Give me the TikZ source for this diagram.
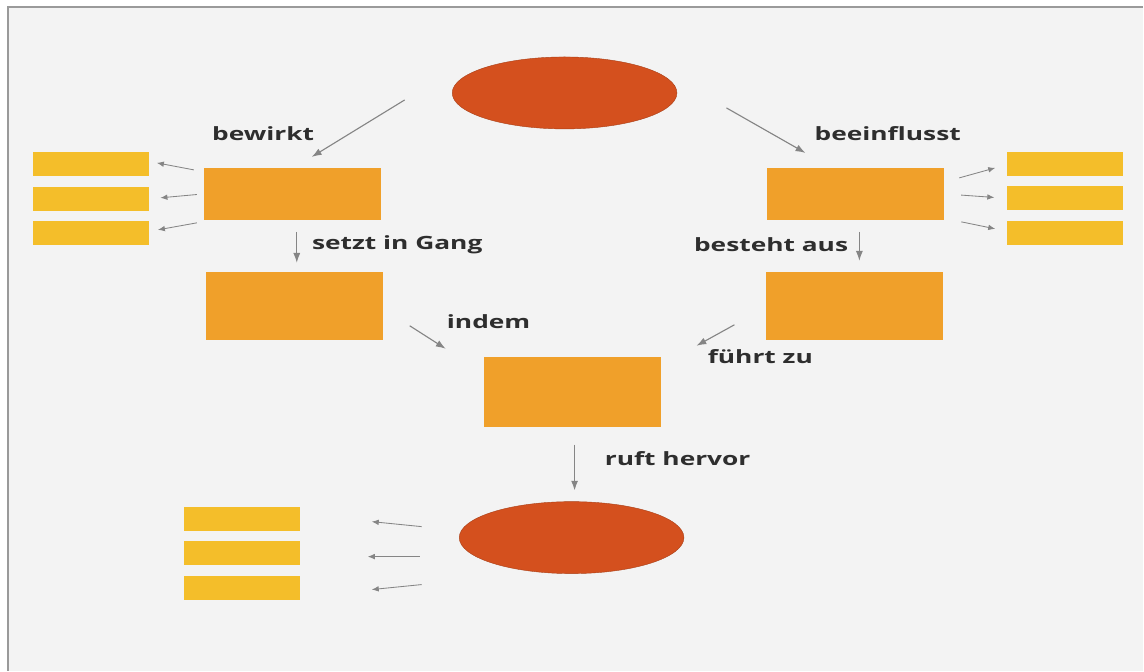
\documentclass[tikz,border=0pt]{standalone}
\usepackage{fontspec}
\setmainfont{Open Sans}[FakeStretch=1.44]
\usetikzlibrary{arrows.meta,shapes.geometric}
\definecolor{paper}{HTML}{F3F3F3}
\definecolor{rahmen}{HTML}{9A9A9A}
\definecolor{rost}{HTML}{D4501E}
\definecolor{orange}{HTML}{F0A02A}
\definecolor{gelb}{HTML}{F4BE2A}
\definecolor{pfeil}{HTML}{858585}
\definecolor{schrift}{HTML}{2E2E2E}

\begin{document}
\begin{tikzpicture}[x=0.025cm, y=-0.025cm, >={Latex[length=7pt,width=5pt]},
    oval/.style={ellipse, fill=rost, draw=rost!80!black, line width=0.3pt, inner sep=0pt, minimum width=5.62cm, minimum height=1.8cm},
    kasten/.style={rectangle, fill=orange, inner sep=0pt, minimum width=4.43cm},
    balken/.style={rectangle, fill=gelb, inner sep=0pt, minimum width=2.9cm, minimum height=0.6cm},
    pf/.style={->, pfeil, line width=0.8pt},
    kpf/.style={->, pfeil, line width=0.6pt, >={Latex[length=5pt,width=4pt]}},
    txt/.style={text=schrift, font=\bfseries\fontsize{13}{15}\selectfont, inner sep=0pt}]
  % Hintergrund und Rahmen
  \fill[white] (0,0) rectangle (1144,671);
  \fill[paper] (8,7) rectangle (1144,671);
  \draw[rahmen, line width=1.2pt] (8,671) -- (8,7) -- (1144,7);
  \useasboundingbox (0,0) rectangle (1144,671);
  % Ellipsen
  \node[oval] (top) at (565,93) {};
  \node[oval] (bot) at (572,538) {};
  % Kaesten
  \node[kasten, minimum height=1.3cm] (lb1) at (293,194) {};
  \node[kasten, minimum height=1.7cm] (lb2) at (294.5,306) {};
  \node[kasten, minimum height=1.3cm] (rb1) at (856,194) {};
  \node[kasten, minimum height=1.7cm] (rb2) at (855,306) {};
  \node[kasten, minimum height=1.75cm] (ctr) at (572.5,392) {};
  % Balken
  \foreach \i/\y in {1/164.5,2/199,3/233.5} {
    \node[balken] (lbar\i) at (91,\y) {};
    \node[balken] (rbar\i) at (1066,\y-0.5) {};
  }
  \foreach \i/\y in {1/519,2/553,3/588}
    \node[balken] (bbar\i) at (242,\y) {};
  % Beschriftungen
  \node[txt, anchor=west] (bewirkt) at (212,134) {bewirkt};
  \node[txt, anchor=west] (beein) at (815,134) {beeinflusst};
  \node[txt, anchor=west] (setzt) at (312,245) {setzt in Gang};
  \node[txt, anchor=east] (besteht) at (849,245) {besteht aus};
  \node[txt, anchor=west] (indem) at (447,322) {indem};
  \node[txt, anchor=west] (fuehrt) at (708,357) {führt zu};
  \node[txt, anchor=west] (ruft) at (605,459) {ruft hervor};
  % Pfeilenden
  \coordinate (t1) at (405,100); \coordinate (t1e) at (312,157);
  \coordinate (t2) at (727,108); \coordinate (t2e) at (806,153);
  \coordinate (l1) at (194,170); \coordinate (l1e) at (157,163);
  \coordinate (l3) at (197,223); \coordinate (l3e) at (158,230);
  \coordinate (r1) at (960,178); \coordinate (r1e) at (996,168);
  \coordinate (r3) at (962,222); \coordinate (r3e) at (996,229);
  \coordinate (s1) at (297,232); \coordinate (s1e) at (297,263);
  \coordinate (s2) at (860,232); \coordinate (s2e) at (860,261);
  \coordinate (i1) at (410,326); \coordinate (i1e) at (446,349);
  \coordinate (f1) at (735,325); \coordinate (f1e) at (697,346);
  \coordinate (h1) at (575,445); \coordinate (h1e) at (575,491);
  \coordinate (b1) at (422,527); \coordinate (b1e) at (372,522);
  \coordinate (b2) at (420,557); \coordinate (b2e) at (368,557);
  \coordinate (b3) at (422,585); \coordinate (b3e) at (372,590);
  % Pfeile
  \draw[pf] (t1) -- (t1e);
  \draw[pf] (t2) -- (t2e);
  \draw[pf] (s1) -- (s1e);
  \draw[pf] (s2) -- (s2e);
  \draw[pf] (i1) -- (i1e);
  \draw[pf] (f1) -- (f1e);
  \draw[pf, line width=1pt] (h1) -- (h1e);
  \draw[kpf] (l1) -- (l1e);
  \draw[kpf, shorten <=5pt, shorten >=8pt] (lb1.west) -- (lbar2.east);
  \draw[kpf] (l3) -- (l3e);
  \draw[kpf] (r1) -- (r1e);
  \draw[kpf, shorten <=12pt, shorten >=9pt] (rb1.east) -- (rbar2.west);
  \draw[kpf] (r3) -- (r3e);
  \draw[kpf] (b1) -- (b1e);
  \draw[kpf] (b2) -- (b2e);
  \draw[kpf] (b3) -- (b3e);
\end{tikzpicture}
\end{document}
